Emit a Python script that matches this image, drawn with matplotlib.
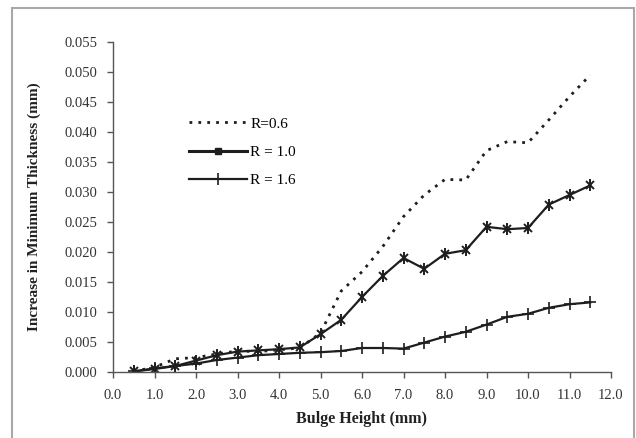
import matplotlib
matplotlib.use("Agg")
import matplotlib.pyplot as plt
from matplotlib.patches import Rectangle

bulge_height = [0.5, 1.0, 1.5, 2.0, 2.5, 3.0, 3.5, 4.0, 4.5, 5.0, 5.5, 6.0,
                6.5, 7.0, 7.5, 8.0, 8.5, 9.0, 9.5, 10.0, 10.5, 11.0, 11.5]
r06 = [0.0001, 0.0008, 0.0022, 0.0024, 0.0030, 0.0035, 0.0034, 0.0037, 0.0040,
       0.0065, 0.0135, 0.0167, 0.0209, 0.0259, 0.0295, 0.0321, 0.0320, 0.0369,
       0.0384, 0.0382, 0.0420, 0.0459, 0.0495]
r10 = [0.0001, 0.0005, 0.0010, 0.0019, 0.0028, 0.0034, 0.0036, 0.0038, 0.0041,
       0.0063, 0.0087, 0.0125, 0.0160, 0.0190, 0.0172, 0.0197, 0.0203, 0.0242,
       0.0238, 0.0240, 0.0279, 0.0295, 0.0311]
r16 = [0.0001, 0.0006, 0.0010, 0.0014, 0.0020, 0.0024, 0.0028, 0.0030, 0.0032,
       0.0033, 0.0035, 0.0040, 0.0040, 0.0039, 0.0049, 0.0059, 0.0067, 0.0079,
       0.0092, 0.0097, 0.0107, 0.0113, 0.0116]
labels = ["R=0.6", "R = 1.0", "R = 1.6"]
xticks = [0.0, 1.0, 2.0, 3.0, 4.0, 5.0, 6.0, 7.0, 8.0, 9.0, 10.0, 11.0, 12.0]
yticks = [0.000, 0.005, 0.010, 0.015, 0.020, 0.025, 0.030, 0.035, 0.040,
          0.045, 0.050, 0.055]

plt.rcParams['font.family'] = ['Liberation Serif', 'DejaVu Serif']
W, H = 636, 438
fig = plt.figure(figsize=(W / 100, H / 100), dpi=100)
fig.patches.append(Rectangle((12 / W, -0.05), (634 - 12) / W, 1.05 - 8 / H,
                             transform=fig.transFigure, fill=False,
                             edgecolor='#a8a8a8', linewidth=1.5))
ax = fig.add_axes([113 / W, 1 - 372 / H, (611 - 113) / W, (372 - 42) / H])

col = '#1e1e1e'
ax.plot(bulge_height, r06, linestyle=(0, (1, 2.2)), linewidth=2.0, color=col,
        label=labels[0])
ax.plot(bulge_height, r10, '-', linewidth=1.6, color=col, marker='x',
        markersize=6, markeredgewidth=1.4)
ax.plot(bulge_height, r10, linestyle='none', color=col, marker='|',
        markersize=8, markeredgewidth=1.4)
ax.plot([], [], '-', linewidth=2.2, color=col, marker='s', markersize=5,
        label=labels[1])
ax.plot(bulge_height, r16, '-', linewidth=1.6, color=col, marker='+',
        markersize=8, markeredgewidth=1.2, label=labels[2])

ax.set_xlim(0, 12)
ax.set_ylim(0, 0.055)
ax.set_xticks(xticks)
ax.set_xticklabels([f"{v:.1f}" for v in xticks])
ax.set_yticks(yticks)
ax.set_yticklabels([f"{v:.3f}" for v in yticks])
for s in ['top', 'right']:
    ax.spines[s].set_visible(False)
for s in ['left', 'bottom']:
    ax.spines[s].set_color('#555555')
    ax.spines[s].set_linewidth(1.0)
ax.tick_params(axis='both', direction='out', length=4, width=1.0,
               color='#555555', labelsize=10.5, labelcolor='#333333')
ax.tick_params(axis='x', pad=8)
ax.tick_params(axis='y', pad=7)

ax.set_xlabel("Bulge Height (mm)", fontsize=11.5, fontweight='bold',
              color='#222222', labelpad=7)
ax.set_ylabel("Increase in Minimum Thickness (mm)", fontsize=11,
              fontweight='bold', color='#222222', labelpad=17)

ax.legend(loc='upper left', bbox_to_anchor=(70 / (611 - 113), (372 - 111) / (372 - 42)),
          frameon=False, fontsize=11, handlelength=3.8, handletextpad=0.2,
          labelspacing=0.95, borderaxespad=0)

fig.savefig("out.png", dpi=100)
